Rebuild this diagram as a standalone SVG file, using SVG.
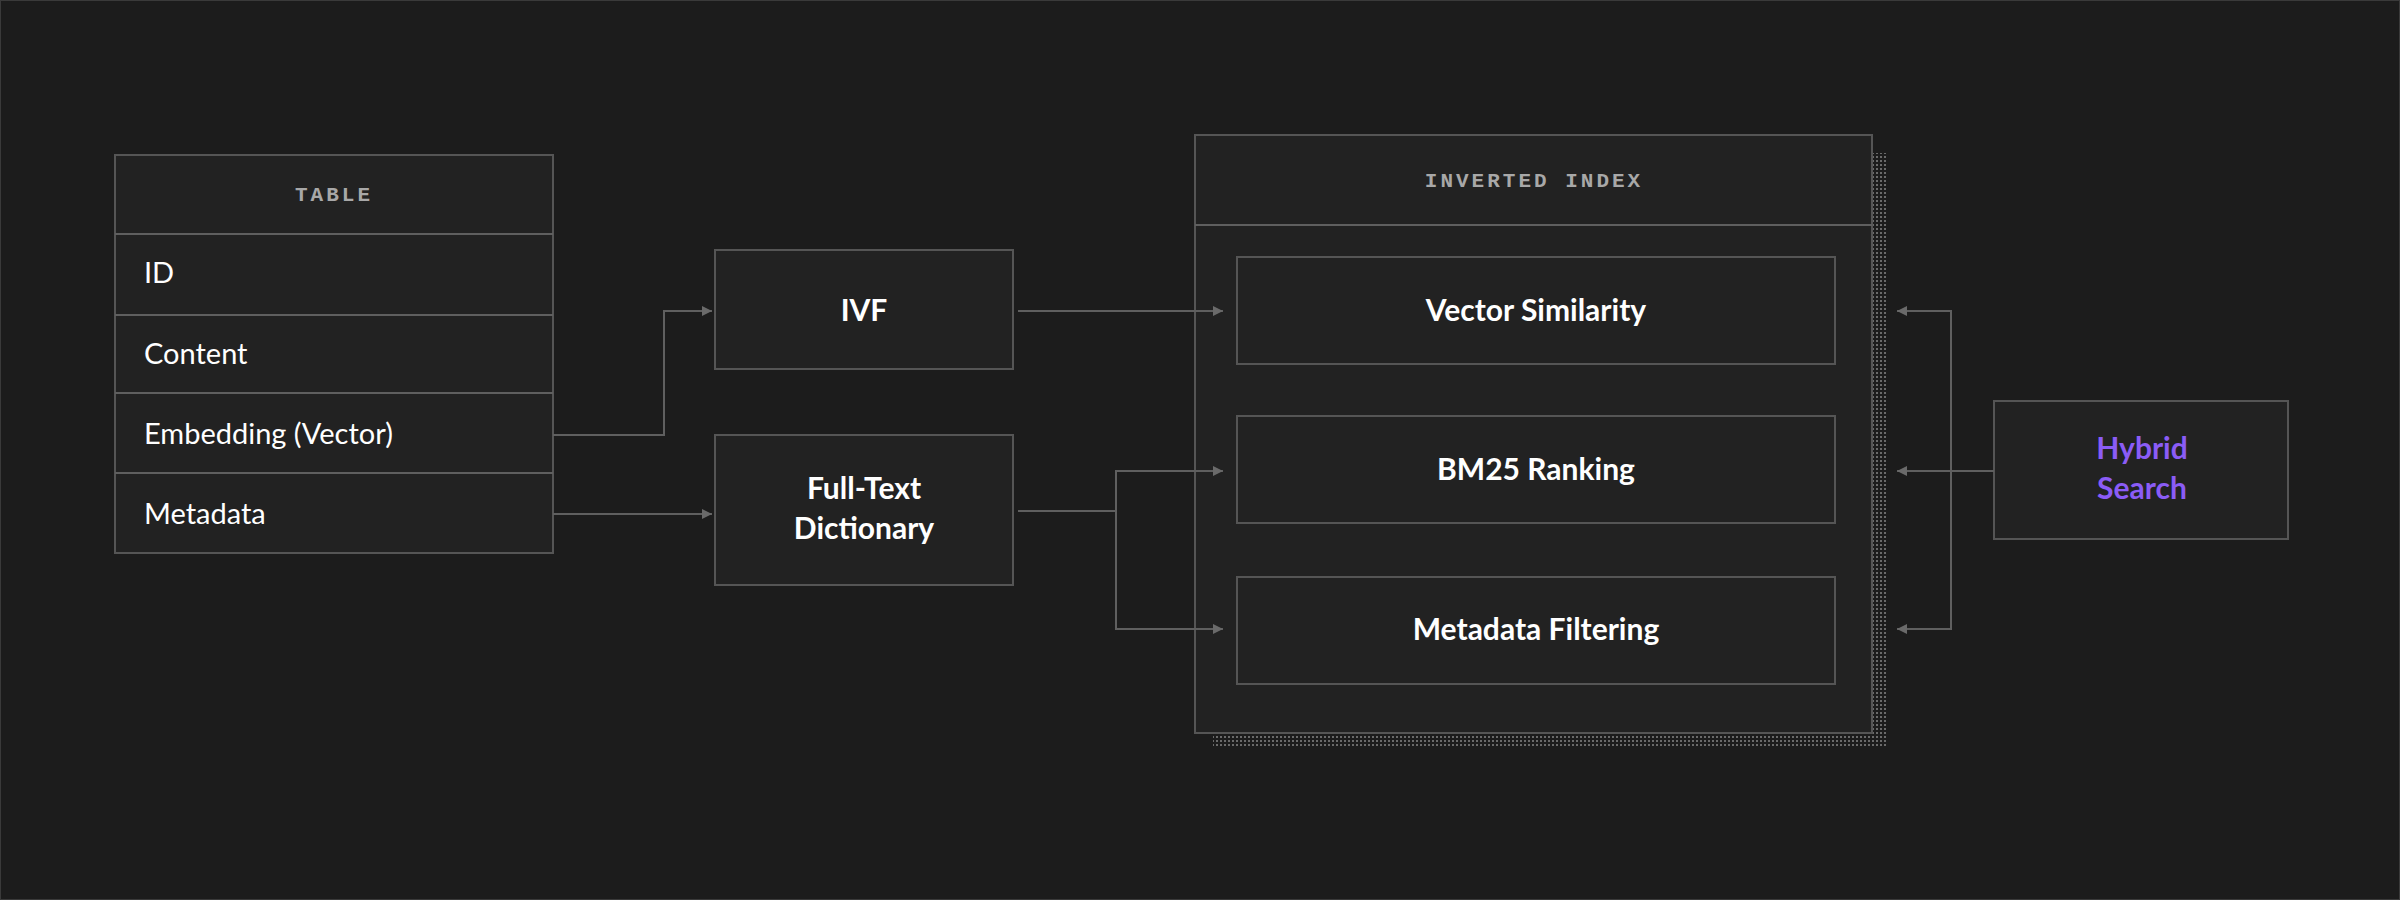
<svg xmlns="http://www.w3.org/2000/svg" width="2400" height="900" viewBox="0 0 2400 900">
<style>
.box{fill:#222222;stroke:#555555;stroke-width:2}
.hdr{font-family:"Liberation Mono",monospace;font-weight:bold;font-size:21px;fill:#a8a8a8;letter-spacing:3px;text-anchor:middle}
.row{font-family:Lato,"Noto Sans",sans-serif;font-size:29px;fill:#ffffff}
.lbl{font-family:Lato,"Noto Sans",sans-serif;font-weight:bold;font-size:30px;fill:#ffffff;text-anchor:middle}
.con{fill:none;stroke:#5f5f5f;stroke-width:2}
</style>
<defs>
<marker id="ah" viewBox="0 0 10 10" refX="10" refY="5" markerWidth="5" markerHeight="5" orient="auto-start-reverse" markerUnits="strokeWidth">
<path d="M0,0 L10,5 L0,10 z" fill="#6a6a6a"/>
</marker>
<pattern id="dots" width="4" height="4" patternUnits="userSpaceOnUse">
<rect width="4" height="4" fill="#1c1c1c"/><rect width="2" height="2" fill="#6a6a6a"/>
</pattern>
</defs>
<rect x="0" y="0" width="2400" height="900" fill="#1c1c1c" stroke="#3a3a3a" stroke-width="2"/>
<g id="table">
<rect class="box" x="115" y="155" width="438" height="398"/>
<line class="con" x1="115" y1="234" x2="553" y2="234"/>
<line class="con" x1="115" y1="315" x2="553" y2="315"/>
<line class="con" x1="115" y1="393" x2="553" y2="393"/>
<line class="con" x1="115" y1="473" x2="553" y2="473"/>
<text class="hdr" x="334" y="201">TABLE</text>
<text class="row" x="144" y="283">ID</text>
<text class="row" x="144" y="364">Content</text>
<text class="row" x="144" y="444">Embedding (Vector)</text>
<text class="row" x="144" y="524">Metadata</text>
</g>
<g id="ivf">
<rect class="box" x="715" y="250" width="298" height="119"/>
<text class="lbl" x="864" y="321" font-size="34">IVF</text>
</g>
<g id="fulltext">
<rect class="box" x="715" y="435" width="298" height="150"/>
<text class="lbl" x="864" y="499">Full-Text</text>
<text class="lbl" x="864" y="539">Dictionary</text>
</g>
<g id="inverted-index">
<rect x="1213" y="153" width="674" height="595" fill="url(#dots)"/>
<rect class="box" x="1195" y="135" width="677" height="598"/>
<line class="con" x1="1195" y1="225" x2="1872" y2="225"/>
<text class="hdr" x="1534" y="187">INVERTED INDEX</text>
</g>
<g id="vector-similarity">
<rect class="box" x="1237" y="257" width="598" height="107"/>
<text class="lbl" x="1536" y="321">Vector Similarity</text>
</g>
<g id="bm25">
<rect class="box" x="1237" y="416" width="598" height="107"/>
<text class="lbl" x="1536" y="480">BM25 Ranking</text>
</g>
<g id="metadata-filtering">
<rect class="box" x="1237" y="577" width="598" height="107"/>
<text class="lbl" x="1536" y="640">Metadata Filtering</text>
</g>
<g id="hybrid">
<rect class="box" x="1994" y="401" width="294" height="138"/>
<text class="lbl" x="2142" y="459" fill="#8b5cf6" style="fill:#8b5cf6">Hybrid</text>
<text class="lbl" x="2142" y="499" style="fill:#8b5cf6">Search</text>
</g>
<g id="connectors">
<path class="con" d="M553,435 H664 V311 H712" marker-end="url(#ah)"/>
<path class="con" d="M553,514 H712" marker-end="url(#ah)"/>
<path class="con" d="M1018,311 H1223" marker-end="url(#ah)"/>
<path class="con" d="M1018,511 H1116 V471 H1223" marker-end="url(#ah)"/>
<path class="con" d="M1116,511 V629 H1223" marker-end="url(#ah)"/>
<path class="con" d="M1994,471 H1897" marker-end="url(#ah)"/>
<path class="con" d="M1951,471 V311 H1897" marker-end="url(#ah)"/>
<path class="con" d="M1951,471 V629 H1897" marker-end="url(#ah)"/>
</g>
</svg>
